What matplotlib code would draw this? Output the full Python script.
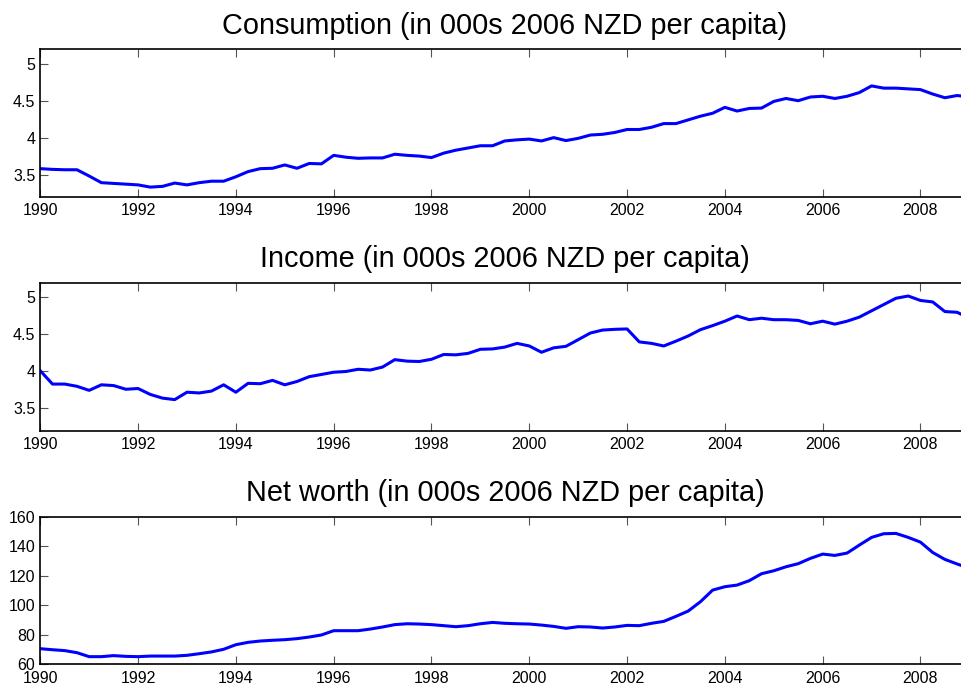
import numpy as np
import matplotlib
matplotlib.use('Agg')
import matplotlib.pyplot as plt

plt.rcParams['font.family'] = ['Liberation Sans', 'DejaVu Sans']

# quarterly, 1990Q1 .. 2009Q1
years = 1990 + np.arange(77) * 0.25

consumption = [3.58, 3.57, 3.565, 3.565, 3.48, 3.39, 3.38, 3.37, 3.36, 3.33,
               3.34, 3.385, 3.36, 3.39, 3.41, 3.41, 3.47, 3.54, 3.58, 3.585,
               3.63, 3.585, 3.65, 3.645, 3.76, 3.735, 3.72, 3.725, 3.725, 3.775,
               3.76, 3.75, 3.73, 3.79, 3.83, 3.86, 3.89, 3.89, 3.955, 3.97,
               3.98, 3.955, 4.0, 3.96, 3.99, 4.035, 4.045, 4.07, 4.11, 4.11,
               4.14, 4.19, 4.19, 4.24, 4.29, 4.33, 4.41, 4.36, 4.395, 4.40,
               4.49, 4.53, 4.50, 4.55, 4.56, 4.53, 4.56, 4.61, 4.70, 4.67,
               4.67, 4.66, 4.65, 4.59, 4.54, 4.57, 4.55]

income = [4.01, 3.83, 3.83, 3.80, 3.745, 3.82, 3.81, 3.76, 3.77, 3.69,
          3.64, 3.62, 3.72, 3.71, 3.735, 3.82, 3.72, 3.84, 3.835, 3.88,
          3.82, 3.865, 3.93, 3.96, 3.99, 4.0, 4.03, 4.02, 4.06, 4.16,
          4.14, 4.135, 4.165, 4.23, 4.225, 4.245, 4.30, 4.305, 4.33, 4.38,
          4.345, 4.26, 4.32, 4.34, 4.43, 4.52, 4.56, 4.57, 4.575, 4.40,
          4.38, 4.345, 4.41, 4.48, 4.565, 4.62, 4.68, 4.75, 4.70, 4.72,
          4.70, 4.70, 4.69, 4.645, 4.68, 4.64, 4.68, 4.735, 4.82, 4.905,
          4.99, 5.02, 4.96, 4.94, 4.81, 4.80, 4.72]

net_worth = [70.6, 69.9, 69.3, 67.9, 65.2, 65.2, 65.9, 65.4, 65.2, 65.6,
             65.6, 65.6, 66.1, 67.2, 68.4, 70.2, 73.3, 74.9, 75.8, 76.3,
             76.7, 77.4, 78.5, 79.9, 82.8, 82.8, 82.8, 83.9, 85.3, 86.9,
             87.5, 87.3, 86.9, 86.2, 85.5, 86.2, 87.5, 88.4, 87.8, 87.5,
             87.3, 86.6, 85.7, 84.4, 85.5, 85.3, 84.6, 85.3, 86.4, 86.2,
             87.8, 89.1, 92.5, 96.1, 102.4, 110.3, 112.6, 113.7, 116.7, 121.4,
             123.4, 126.1, 128.2, 131.8, 134.7, 133.8, 135.4, 140.8, 146.0, 148.5,
             148.7, 146.0, 142.8, 135.8, 131.1, 128.0, 125.0]

titles = ['Consumption (in 000s 2006 NZD per capita)',
          'Income (in 000s 2006 NZD per capita)',
          'Net worth (in 000s 2006 NZD per capita)']
series = [consumption, income, net_worth]
ylims = [(3.2, 5.2), (3.2, 5.2), (60, 160)]
yticks = [[3.5, 4, 4.5, 5], [3.5, 4, 4.5, 5], [60, 80, 100, 120, 140, 160]]
ylabels = [['3.5', '4', '4.5', '5'], ['3.5', '4', '4.5', '5'],
           ['60', '80', '100', '120', '140', '160']]

fig = plt.figure(figsize=(9.61, 6.89), dpi=100)
# axes run slightly past the right edge of the picture, as in the original
boxes = [[0.0419, 0.7145, 0.9668, 0.2144],
         [0.0419, 0.3749, 0.9668, 0.2148],
         [0.0419, 0.0358, 0.9668, 0.2142]]

for i in range(3):
    ax = fig.add_axes(boxes[i])
    ax.plot(years, series[i], color='#0000ff', linewidth=2.2)
    ax.set_xlim(1990, 2009)
    ax.set_ylim(*ylims[i])
    ax.set_xticks(np.arange(1990, 2009, 2))
    ax.set_yticks(yticks[i])
    ax.set_yticklabels(ylabels[i])
    ax.tick_params(direction='in', top=True, right=True, length=5.5, width=0.8,
                   color='#555555', labelsize=11.5, labelcolor='black')
    ax.tick_params(axis='x', pad=4.5)
    ax.tick_params(axis='y', pad=3.5)
    for s in ax.spines.values():
        s.set_linewidth(1.2)
    ax.set_title(titles[i], fontsize=20.8, pad=11)

fig.savefig('out.png', dpi=100)
